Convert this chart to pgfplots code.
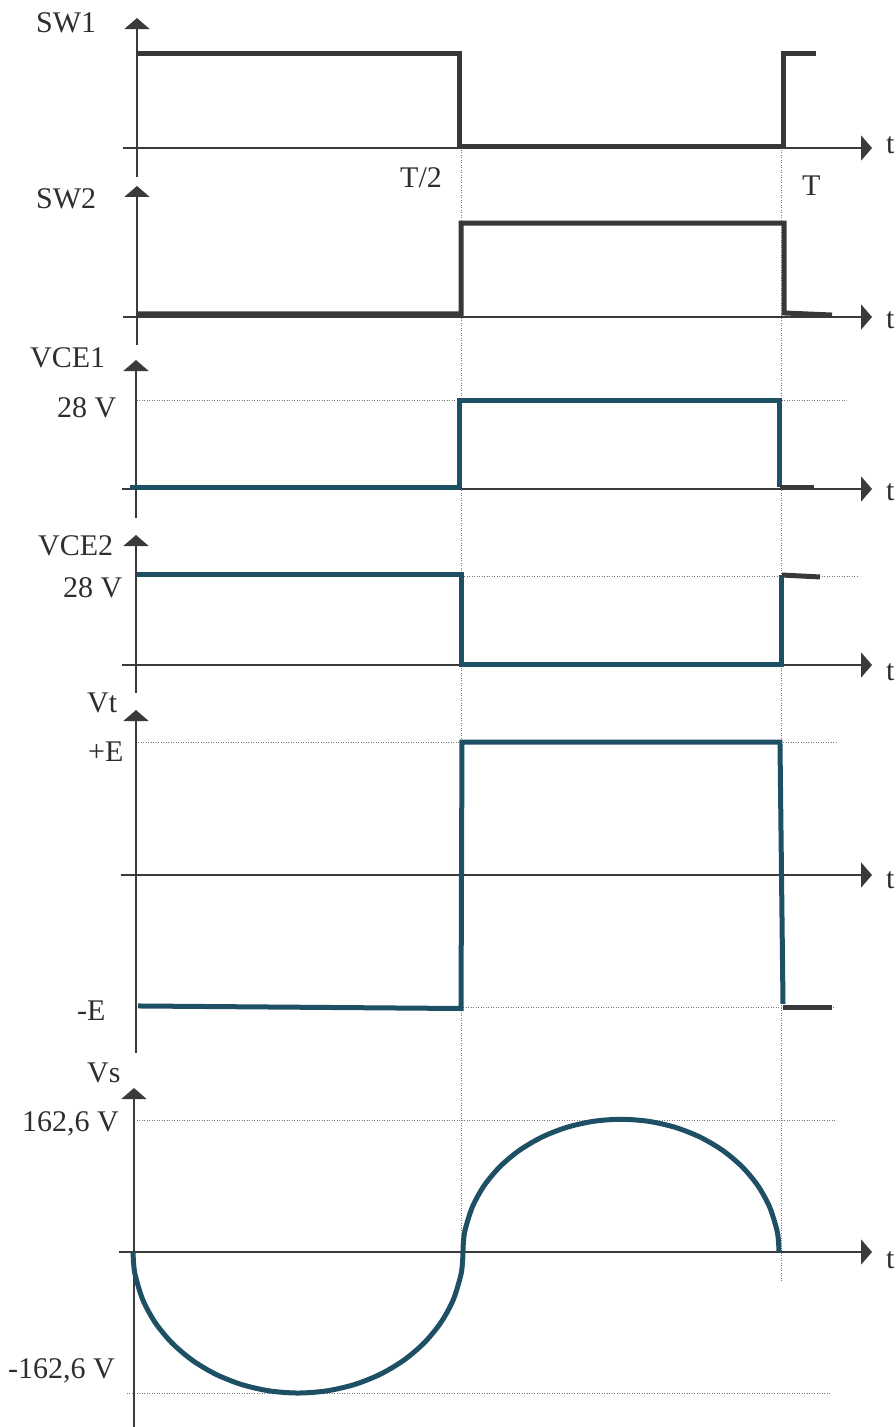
\documentclass[border=0pt]{standalone}
\usepackage{fontspec}
\setmainfont{Liberation Serif}
\usepackage{pgfplots}
\pgfplotsset{compat=1.18}
\usetikzlibrary{arrows.meta}
\definecolor{axc}{HTML}{3A3A3D}
\definecolor{sigg}{HTML}{38383B}
\definecolor{teal}{HTML}{1D4F65}
\definecolor{dotc}{HTML}{7A7A7A}
\definecolor{txt}{HTML}{2E2E30}
\pgfplotsset{
  panel/.style={hide axis, clip=false, x=645pt, xmin=0, xmax=1, ymin=0,
    anchor=south west, enlargelimits=false},
  axl/.style={color=axc, line width=2pt, mark=none, -{Triangle[width=25pt,length=11pt]}},
  axv/.style={color=axc, line width=2pt, mark=none},
  dotl/.style={color=dotc, line width=1pt, dash pattern=on 1pt off 1.5pt, mark=none},
  sg/.style={color=sigg, line width=5pt, mark=none, line join=miter},
  st/.style={color=teal, line width=5pt, mark=none, line join=miter},
}
\tikzset{lab/.style={anchor=base west, inner sep=0pt, text=txt, font=\fontsize{30}{36}\selectfont}}
\begin{document}
\begin{tikzpicture}
\path[use as bounding box] (0,0) rectangle (895pt,-1427pt);

% ---------- SW1 ----------
\begin{axis}[panel, y=95pt, ymax=1, at={(138pt,-148pt)}]
\addplot[dotl] coordinates {(0.5023,-0.021) (0.5023,-11.916)};
\addplot[dotl] coordinates {(0.9984,-0.021) (0.9984,-11.937)};
\addplot[axl] coordinates {(-0.0233,0) (1.138,0)};
\addplot[axl] coordinates {(-0.0016,-0.305) (-0.0016,1.368)};
\addplot[sg] coordinates {(-0.0016,1) (0.4992,1) (0.4992,0.021) (1.0,0.021) (1.0,1) (1.0512,1)};
\end{axis}

% ---------- SW2 ----------
\begin{axis}[panel, y=94pt, ymax=1, at={(138pt,-317pt)}]
\addplot[axl] coordinates {(-0.0233,0) (1.138,0)};
\addplot[axl] coordinates {(-0.0016,-0.298) (-0.0016,1.394)};
\addplot[sg] coordinates {(0,0.032) (0.5008,0.032) (0.5008,1) (1.0016,1) (1.0016,0.043) (1.076,0.021)};
\end{axis}

% ---------- VCE1 ----------
\begin{axis}[panel, y=3.1607pt, ymax=28, at={(138pt,-489pt)}]
\addplot[dotl] coordinates {(-0.0016,28) (1.0992,28)};
\addplot[axl] coordinates {(-0.0248,0) (1.138,0)};
\addplot[axl] coordinates {(-0.0031,-9.18) (-0.0031,40.81)};
\addplot[st] coordinates {(-0.0124,0.63) (0.4992,0.63) (0.4992,28) (0.9953,28) (0.9953,0.63)};
\addplot[sg] coordinates {(0.9953,0.63) (1.0481,0.63)};
\end{axis}

% ---------- VCE2 ----------
\begin{axis}[panel, y=3.1786pt, ymax=28, at={(138pt,-665pt)}]
\addplot[dotl] coordinates {(-0.0016,28) (1.1163,28)};
\addplot[axl] coordinates {(-0.0248,0) (1.138,0)};
\addplot[axl] coordinates {(-0.0031,-8.81) (-0.0031,40.9)};
\addplot[st] coordinates {(-0.0016,28.63) (0.5008,28.63) (0.5008,0.31) (0.9984,0.31) (0.9984,28.31)};
\addplot[sg] coordinates {(0.9984,28.31) (1.0574,27.69)};
\end{axis}

% ---------- Vt ----------
\begin{axis}[panel, y=133.5pt, ymax=1, at={(138pt,-875pt)}]
\addplot[dotl] coordinates {(0,0.996) (1.0837,0.996)};
\addplot[dotl] coordinates {(0,-0.996) (1.0806,-0.996)};
\addplot[axl] coordinates {(-0.0264,0) (1.138,0)};
\addplot[axl] coordinates {(-0.0031,-1.333) (-0.0031,1.236)};
\addplot[st] coordinates {(0,-0.981) (0.5008,-1.0) (0.5023,0.996) (0.9953,0.996) (1.0,-0.966)};
\addplot[sg] coordinates {(1.0,-0.996) (1.076,-0.996)};
\end{axis}

% ---------- Vs ----------
\begin{axis}[panel, y=0.81181pt, ymax=162.6, at={(138pt,-1252pt)}]
\addplot[dotl] coordinates {(-0.0016,162.6) (1.0806,162.6)};
\addplot[dotl] coordinates {(-0.0171,-173.7) (1.0729,-173.7)};
\addplot[axl] coordinates {(-0.0295,0) (1.138,0)};
\addplot[axv] coordinates {(-0.0062,-215.6) (-0.0062,0)};
\addplot[axl] coordinates {(-0.0062,-10) (-0.0062,202.0)};
\addplot[st, smooth] coordinates {
 (-0.0077,0) (-0.0067,-15.15) (-0.0038,-30.15) (0.0077,-59.41) (0.0266,-86.85)
 (0.0522,-111.65) (0.0837,-133.05) (0.1202,-150.43) (0.1606,-163.23) (0.2037,-171.06)
 (0.2481,-173.7) (0.2925,-171.06) (0.3356,-163.23) (0.3760,-150.43) (0.4125,-133.05)
 (0.4440,-111.65) (0.4696,-86.85) (0.4885,-59.41) (0.5000,-30.15) (0.5029,-15.15) (0.5039,0)};
\addplot[st, smooth] coordinates {
 (0.5038,0) (0.5047,14.26) (0.5075,28.38) (0.5186,55.92) (0.5366,81.75)
 (0.5611,105.10) (0.5913,125.24) (0.6263,141.59) (0.6650,153.64) (0.7063,161.01)
 (0.7488,163.5) (0.7913,161.01) (0.8326,153.64) (0.8713,141.59) (0.9063,125.24)
 (0.9365,105.10) (0.9610,81.75) (0.9790,55.92) (0.9901,28.38) (0.9929,14.26) (0.9938,0)};
\end{axis}

% ---------- labels ----------
\node[lab] at (36pt,-32pt) {SW1};
\node[lab] at (36pt,-208pt) {SW2};
\node[lab] at (400pt,-187pt) {T/2};
\node[lab] at (802pt,-195pt) {T};
\node[lab] at (30pt,-367pt) {VCE1};
\node[lab] at (57pt,-417pt) {28 V};
\node[lab] at (38pt,-555pt) {VCE2};
\node[lab] at (63pt,-597pt) {28 V};
\node[lab] at (87pt,-712pt) {Vt};
\node[lab] at (88pt,-761pt) {+E};
\node[lab] at (77pt,-1020pt) {-E};
\node[lab] at (87pt,-1082pt) {Vs};
\node[lab] at (22pt,-1131pt) {162,6 V};
\node[lab] at (8pt,-1378pt) {-162,6 V};
\node[lab] at (886pt,-153pt) {t};
\node[lab] at (886pt,-328pt) {t};
\node[lab] at (886pt,-500pt) {t};
\node[lab] at (886pt,-680pt) {t};
\node[lab] at (886pt,-888pt) {t};
\node[lab] at (886pt,-1268pt) {t};
\end{tikzpicture}
\end{document}
